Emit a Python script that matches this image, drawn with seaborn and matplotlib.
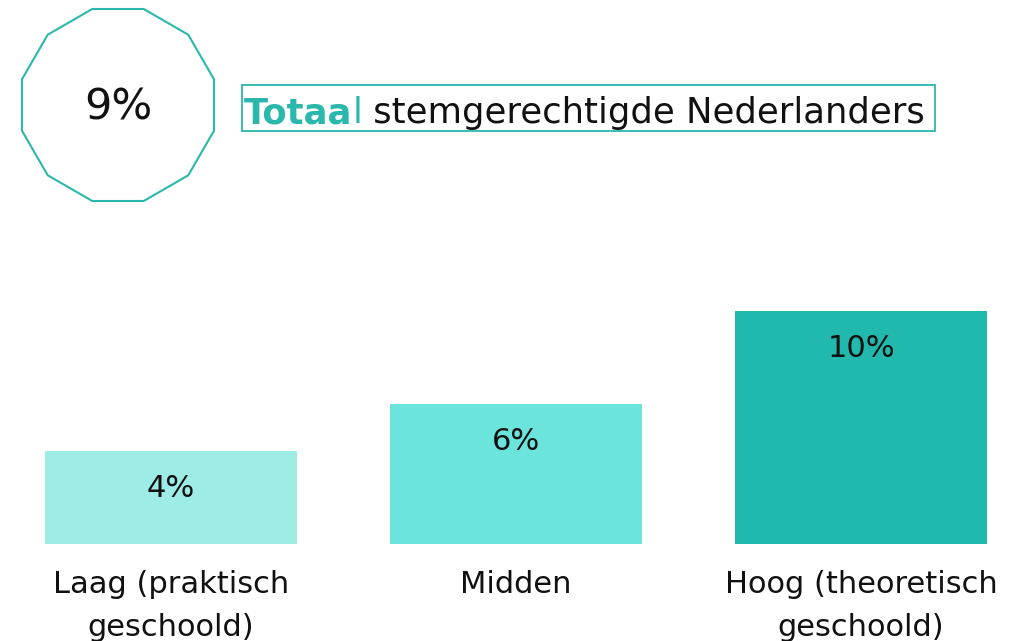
import matplotlib
matplotlib.use("Agg")
from matplotlib import pyplot as plt
from matplotlib.patches import RegularPolygon, Rectangle
import numpy as np
import pandas as pd
import seaborn as sns

# data
categories = ["Laag (praktisch\ngeschoold)", "Midden", "Hoog (theoretisch\ngeschoold)"]
values = [4, 6, 10]
value_labels = ["4%", "6%", "10%"]
bar_colors = ["#9DEDE6", "#6BE4DB", "#21B9AE"]
total_value = "9%"
title_bold = "Totaa"
title_teal = "l"
title_rest = " stemgerechtigde Nederlanders"

teal = "#2AB8AC"

sns.set_theme(style="white")
plt.rcParams["font.family"] = ["DejaVu Sans"]

df = pd.DataFrame({"category": categories, "value": values})

fig = plt.figure(figsize=(10.25, 6.41), dpi=100)
ax = fig.add_axes([45 / 1025, 97 / 641, 942 / 1025, 233 / 641])

sns.barplot(data=df, x="category", y="value", hue="category",
            palette=bar_colors, width=0.73, legend=False, ax=ax,
            saturation=1, linewidth=0)

ax.set_xlim(-0.365, 2.365)
ax.set_ylim(0, 10)
for s in ax.spines.values():
    s.set_visible(False)
ax.set_yticks([])
ax.set_xlabel("")
ax.set_ylabel("")
ax.tick_params(axis="x", length=0, pad=19)
for lab in ax.get_xticklabels():
    lab.set_fontsize(22)
    lab.set_linespacing(1.6)
    lab.set_color("#111111")
    lab.set_va("top")

for i, (v, t) in enumerate(zip(values, value_labels)):
    ax.annotate(t, xy=(i, v), xytext=(0, -27), textcoords="offset points",
                ha="center", va="center", fontsize=22, color="#111111")

# overlay in pixel units
ov = fig.add_axes([0, 0, 1, 1])
ov.set_xlim(0, 1025)
ov.set_ylim(641, 0)
ov.axis("off")

ov.add_patch(RegularPolygon((118, 105), numVertices=12, radius=96 / np.cos(np.pi / 12),
                            orientation=np.pi / 12, fill=False, edgecolor=teal, lw=1.5))
ov.text(118, 108, total_value, ha="center", va="center", fontsize=31, color="#111111")

ov.add_patch(Rectangle((242, 85), 693, 46, fill=False, edgecolor=teal, lw=1.3))
t1 = ov.text(244, 123, title_bold, ha="left", va="baseline", fontsize=25.5,
             color=teal, fontweight="bold")
t2 = ov.annotate(title_teal, xy=(1, 0), xycoords=t1, ha="left", va="bottom",
                 fontsize=25.5, color=teal)
ov.annotate(title_rest, xy=(1, 0), xycoords=t2, ha="left", va="bottom",
            fontsize=25.5, color="#111111")

fig.savefig("out.png", dpi=100)
